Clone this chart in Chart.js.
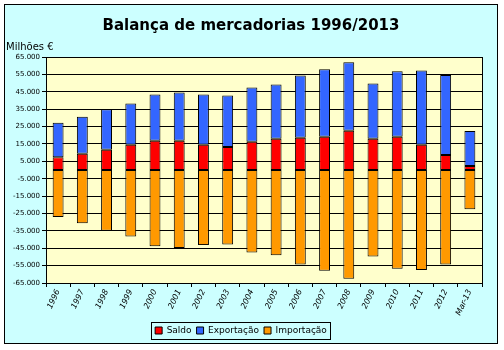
<!DOCTYPE html>
<html>
<head>
<meta charset="utf-8">
<script src="https://cdn.jsdelivr.net/npm/chart.js@4"></script>
<style>
    body { margin: 0; background: #ffffff; }
    #grafico { display: block; }
</style>
</head>
<body>
<canvas id="grafico" width="504" height="350"></canvas>
<script>
// Balança de mercadorias, valores em milhões de euros
const anos = ["1996", "1997", "1998", "1999", "2000", "2001", "2002", "2003", "2004",
    "2005", "2006", "2007", "2008", "2009", "2010", "2011", "2012", "Mar-13"];
const saldo = [7300, 9300, 11600, 14500, 16800, 16800, 14500, 13300, 16200,
    18000, 18500, 19100, 22600, 18000, 19100, 14500, 8700, 2300];
const exportacao = [19900, 21400, 23300, 23700, 26600, 27800, 28900, 29600, 31300,
    31200, 35900, 38800, 39400, 31800, 37700, 42800, 45900, 20100];
const importacao = [-27000, -30700, -34900, -38200, -43800, -44800, -43200, -42900, -47500,
    -49000, -54400, -57900, -62500, -49800, -56800, -57500, -54400, -22600];
const marcasEixo = [-65000, -55000, -45000, -35000, -25000, -15000, -5000,
    5000, 15000, 25000, 35000, 45000, 55000, 65000];

function formatarMilhar(valor) {
    const sinal = valor < 0 ? "-" : "";
    return sinal + String(Math.abs(valor)).replace(/\B(?=(\d{3})+(?!\d))/g, ".");
}

// fundo, moldura, título e unidade
const moldura = {
    id: "moldura",
    beforeDraw(chart) {
        const ctx = chart.ctx;
        const area = chart.chartArea;
        ctx.save();
        ctx.fillStyle = "#ffffff";
        ctx.fillRect(0, 0, chart.width, chart.height);
        ctx.fillStyle = "#ccffff";
        ctx.fillRect(4, 4, 493, 339);
        ctx.strokeStyle = "#000000";
        ctx.lineWidth = 1;
        ctx.strokeRect(4.5, 4.5, 493, 339);
        ctx.fillStyle = "#ffffcc";
        ctx.fillRect(area.left, area.top, area.right - area.left, area.bottom - area.top);

        ctx.fillStyle = "#000000";
        ctx.textAlign = "center";
        ctx.textBaseline = "middle";
        ctx.font = "bold 15px 'DejaVu Sans'";
        ctx.fillText("Balança de mercadorias 1996/2013", 251, 26);
        ctx.textAlign = "left";
        ctx.font = "10px 'DejaVu Sans'";
        ctx.fillText("Milhões €", 6, 47);
        ctx.restore();
    },
    afterDraw(chart) {
        const ctx = chart.ctx;
        const area = chart.chartArea;
        const legenda = chart.legend;
        ctx.save();
        ctx.strokeStyle = "#000000";
        ctx.lineWidth = 1;
        ctx.strokeRect(Math.round(area.left) + 0.5, Math.round(area.top) + 0.5,
            Math.round(area.right - area.left), Math.round(area.bottom - area.top));
        if (legenda && legenda.legendHitBoxes.length) {
            const caixas = legenda.legendHitBoxes;
            const x0 = Math.min(...caixas.map(c => c.left)) - 4;
            const x1 = Math.max(...caixas.map(c => c.left + c.width)) + 3;
            const y0 = Math.min(...caixas.map(c => c.top)) - 4;
            const y1 = Math.max(...caixas.map(c => c.top + c.height)) + 4;
            ctx.strokeRect(Math.round(x0) + 0.5, Math.round(y0) + 0.5, Math.round(x1 - x0), Math.round(y1 - y0));
        }
        ctx.restore();
    }
};

new Chart(document.getElementById("grafico"), {
    type: "bar",
    data: {
        labels: anos,
        datasets: [
            { label: "Saldo", data: saldo, backgroundColor: "#ff0000" },
            { label: "Exportação", data: exportacao, backgroundColor: "#3366ff" },
            { label: "Importação", data: importacao, backgroundColor: "#ff9900" }
        ].map(d => Object.assign(d, {
            borderColor: "#000000",
            borderWidth: 1,
            borderSkipped: false,
            barPercentage: 0.9,
            categoryPercentage: 0.5
        }))
    },
    options: {
        responsive: false,
        animation: false,
        layout: { padding: { top: 57, right: 22, bottom: 5, left: 0 } },
        plugins: {
            title: { display: false },
            tooltip: { enabled: false },
            legend: {
                position: "bottom",
                labels: {
                    color: "#000000",
                    font: { family: "DejaVu Sans", size: 9 },
                    boxWidth: 7,
                    boxHeight: 7,
                    padding: 5
                }
            }
        },
        scales: {
            x: {
                stacked: true,
                afterFit(scale) { scale.height = 38; },
                grid: {
                    drawOnChartArea: false,
                    color: "#000000",
                    tickLength: 4
                },
                border: { color: "#000000" },
                ticks: {
                    color: "#000000",
                    font: { family: "DejaVu Sans", size: 8, style: "italic" },
                    minRotation: 65,
                    maxRotation: 65,
                    autoSkip: false,
                    padding: 1
                }
            },
            y: {
                stacked: true,
                min: -65000,
                max: 65000,
                afterFit(scale) { scale.width = 46; },
                afterBuildTicks(scale) {
                    scale.ticks = marcasEixo.map(v => ({ value: v }));
                },
                grid: {
                    color: "#000000",
                    tickLength: 4
                },
                border: { color: "#000000" },
                ticks: {
                    color: "#000000",
                    font: { family: "DejaVu Sans", size: 7 },
                    padding: 2,
                    callback: v => formatarMilhar(v)
                }
            }
        }
    },
    plugins: [moldura]
});
</script>
</body>
</html>
